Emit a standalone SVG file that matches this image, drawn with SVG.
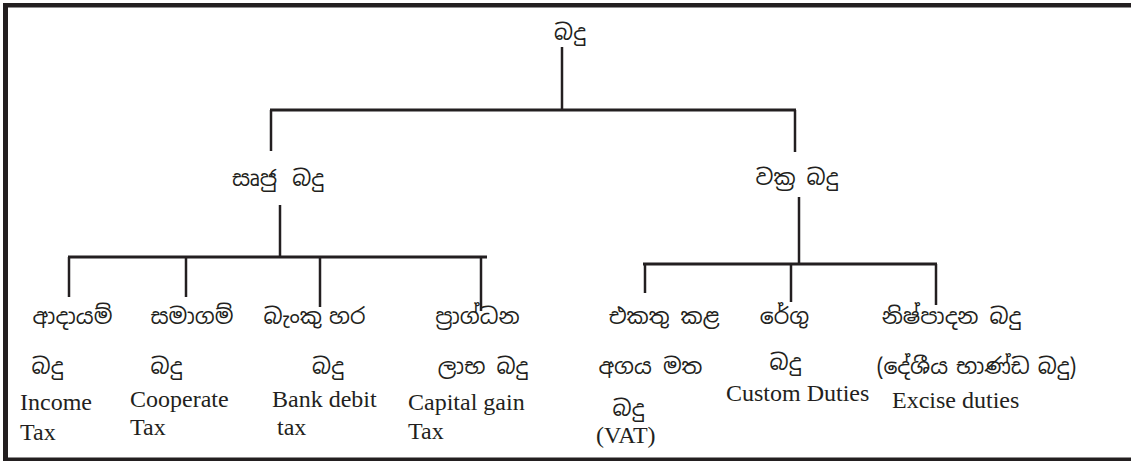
<svg xmlns="http://www.w3.org/2000/svg" width="1131" height="461" viewBox="0 0 1131 461">
<style>
.si{font-family:"Noto Sans Sinhala","Noto Sans","DejaVu Sans",sans-serif;font-size:22px;fill:#231f20;text-anchor:middle}
.en{font-family:"Liberation Serif","Times New Roman",serif;font-size:24px;fill:#231f20}
.c line{stroke:#231f20;stroke-width:2.5}
.c .h{stroke-width:3}
</style>
<rect x="0" y="0" width="1131" height="461" fill="#fff"/>
<g id="frame" fill="#231f20">
<rect x="3" y="3" width="1128" height="4.5"/>
<rect x="3" y="3" width="5" height="458"/>
<rect x="3" y="457.5" width="1128" height="3.5"/>
</g>
<g id="connectors" class="c">
<line x1="562" y1="47" x2="562" y2="111"/>
<line class="h" x1="270" y1="110" x2="796" y2="110"/>
<line x1="271" y1="110" x2="271" y2="151"/>
<line x1="795" y1="110" x2="795" y2="152"/>
<line x1="280" y1="205" x2="280" y2="257"/>
<line class="h" x1="68" y1="257" x2="487" y2="257"/>
<line x1="69" y1="257" x2="69" y2="297"/>
<line x1="186" y1="257" x2="186" y2="297"/>
<line x1="320" y1="257" x2="320" y2="307"/>
<line x1="481" y1="257" x2="481" y2="311"/>
<line x1="799" y1="197" x2="799" y2="264"/>
<line class="h" x1="643" y1="264" x2="937" y2="264"/>
<line x1="645" y1="264" x2="645" y2="293"/>
<line x1="791" y1="264" x2="791" y2="302"/>
<line x1="936" y1="264" x2="936" y2="305"/>
</g>
<g id="n-root"><text class="si" x="570" y="40">බදු</text></g>
<g id="n-direct"><text class="si" x="278" y="186" word-spacing="4">සෘජු බදු</text></g>
<g id="n-indirect"><text class="si" x="797" y="185">වක්‍ර බදු</text></g>
<g id="n-income">
<text class="si" x="72.5" y="324">ආදායම්</text>
<text class="si" x="47.5" y="374">බදු</text>
<text class="en" x="20" y="410">Income</text>
<text class="en" x="20" y="440">Tax</text>
</g>
<g id="n-cooperate">
<text class="si" x="192" y="324">සමාගම්</text>
<text class="si" x="166.5" y="374">බදු</text>
<text class="en" x="130" y="407">Cooperate</text>
<text class="en" x="130" y="435">Tax</text>
</g>
<g id="n-bank">
<text class="si" x="314.5" y="324" word-spacing="-4">බැංකු හර</text>
<text class="si" x="328" y="374">බදු</text>
<text class="en" x="272" y="407">Bank debit</text>
<text class="en" x="277" y="435">tax</text>
</g>
<g id="n-capital">
<text class="si" x="477.5" y="324">ප්‍රාග්ධන</text>
<text class="si" x="483" y="374">ලාභ බදු</text>
<text class="en" x="408" y="410">Capital gain</text>
<text class="en" x="408" y="439">Tax</text>
</g>
<g id="n-vat">
<text class="si" x="664" y="324">එකතු කළ</text>
<text class="si" x="650.5" y="374">අගය මත</text>
<text class="si" x="628.5" y="416">බදු</text>
<text class="en" x="596" y="443">(VAT)</text>
</g>
<g id="n-custom">
<text class="si" x="785.5" y="370">බදු</text>
<text class="si" x="784.5" y="324">රේගු</text>
<text class="en" x="726" y="401">Custom  Duties</text>
</g>
<g id="n-excise">
<text class="si" x="951.5" y="324">නිෂ්පාදන බදු</text>
<text class="si" x="976.5" y="374" word-spacing="-3">(දේශීය භාණ්ඩ බදු)</text>
<text class="en" x="892" y="408">Excise duties</text>
</g>
</svg>
